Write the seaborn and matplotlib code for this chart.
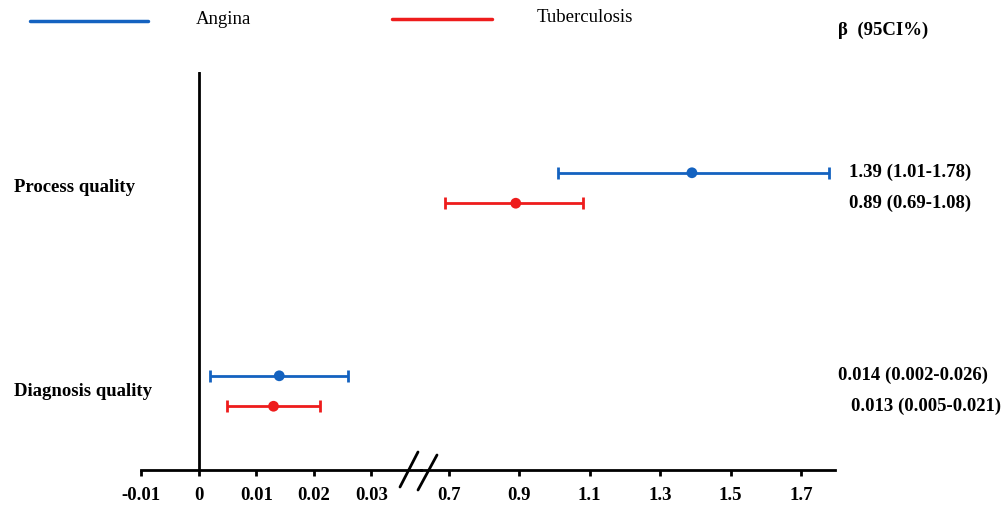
import pandas as pd
import matplotlib.pyplot as plt
import matplotlib.transforms as mtransforms
from matplotlib.lines import Line2D
import seaborn as sns

# values
outcomes = ['Process quality', 'Diagnosis quality']
diseases = ['Angina', 'Tuberculosis']
angina_beta = [1.39, 0.014]
angina_low = [1.01, 0.002]
angina_high = [1.78, 0.026]
tb_beta = [0.89, 0.013]
tb_low = [0.69, 0.005]
tb_high = [1.08, 0.021]
left_ticks = [-0.01, 0, 0.01, 0.02, 0.03]
right_ticks = [0.7, 0.9, 1.1, 1.3, 1.5, 1.7]
colors = {'Angina': '#1462c0', 'Tuberculosis': '#ee1c1c'}

rows = []
for i, o in enumerate(outcomes):
    rows.append(dict(outcome=o, disease='Angina', beta=angina_beta[i], low=angina_low[i], high=angina_high[i], y=i - 0.075))
    rows.append(dict(outcome=o, disease='Tuberculosis', beta=tb_beta[i], low=tb_low[i], high=tb_high[i], y=i + 0.075))
df = pd.DataFrame(rows)

sns.set_style('white')
plt.rcParams['font.family'] = ['Liberation Serif', 'DejaVu Serif']
plt.rcParams['text.color'] = 'black'
plt.rcParams['xtick.color'] = 'black'
plt.rcParams['axes.labelcolor'] = 'black'

fig = plt.figure(figsize=(10.05, 5.05), dpi=100)
ax_l = fig.add_axes([0.1403, 0.0693, 0.2786, 0.788])
ax_r = fig.add_axes([0.4189, 0.0693, 0.4119, 0.788])

for ax in (ax_l, ax_r):
    for s in ['top', 'right', 'left']:
        ax.spines[s].set_visible(False)
    ax.spines['bottom'].set_linewidth(2)
    ax.spines['bottom'].set_color('black')
    ax.set_ylim(1.389, -0.571)
    ax.set_yticks([])
    ax.tick_params(axis='x', direction='out', length=4, width=2, pad=8, bottom=True, colors='black')
    ax.set_facecolor('none')

ax_l.set_xlim(-0.01, 0.0386)
ax_r.set_xlim(0.621, 1.796)
ax_l.set_xticks(left_ticks)
ax_l.set_xticklabels([str(t) for t in left_ticks], fontsize=13.5, fontweight='bold')
ax_r.set_xticks(right_ticks)
ax_r.set_xticklabels([str(t) for t in right_ticks], fontsize=13.5, fontweight='bold')
ax_l.axvline(0, color='black', lw=2)

for outcome, ax in [('Process quality', ax_r), ('Diagnosis quality', ax_l)]:
    sub = df[df['outcome'] == outcome]
    for _, r in sub.iterrows():
        ax.errorbar(r['beta'], r['y'], xerr=[[r['beta'] - r['low']], [r['high'] - r['beta']]],
                    fmt='none', ecolor=colors[r['disease']], elinewidth=2, capsize=4, capthick=2)
    sns.scatterplot(data=sub, x='beta', y='y', hue='disease', palette=colors, s=60,
                    edgecolor='none', legend=False, ax=ax, zorder=3)
    ax.set_xlabel('')
    ax.set_ylabel('')

# labels on the left and estimates on the right
tr = mtransforms.blended_transform_factory(fig.transFigure, ax_r.transData)
for i, o in enumerate(outcomes):
    fig.text(0.014, i, o, transform=tr, ha='left', va='center', fontsize=13.5, fontweight='bold')
label_x = {'Process quality': 0.845, 'Diagnosis quality': 0.834}
for _, r in df.iterrows():
    txt = f"{r['beta']} ({r['low']}-{r['high']})"
    x = label_x[r['outcome']]
    if r['outcome'] == 'Diagnosis quality' and r['disease'] == 'Tuberculosis':
        x = 0.847
    fig.text(x, r['y'], txt, transform=tr, ha='left', va='center', fontsize=13.5, fontweight='bold')

fig.text(0.834, 0.94, 'β  (95CI%)', ha='left', va='center', fontsize=13.5, fontweight='bold')

# legend keys
fig.add_artist(Line2D([0.03, 0.147], [0.958, 0.958], color=colors['Angina'], lw=2.5))
fig.text(0.195, 0.962, 'Angina', ha='left', va='center', fontsize=13.5)
fig.add_artist(Line2D([0.39, 0.49], [0.962, 0.962], color=colors['Tuberculosis'], lw=2.5))
fig.text(0.534, 0.965, 'Tuberculosis', ha='left', va='center', fontsize=13.5)

# axis break marks
fig.add_artist(Line2D([400 / 1005, 418 / 1005], [1 - 487 / 505, 1 - 452 / 505], color='black', lw=2))
fig.add_artist(Line2D([418 / 1005, 437 / 1005], [1 - 490 / 505, 1 - 455 / 505], color='black', lw=2))

fig.savefig('out.png', dpi=100)
